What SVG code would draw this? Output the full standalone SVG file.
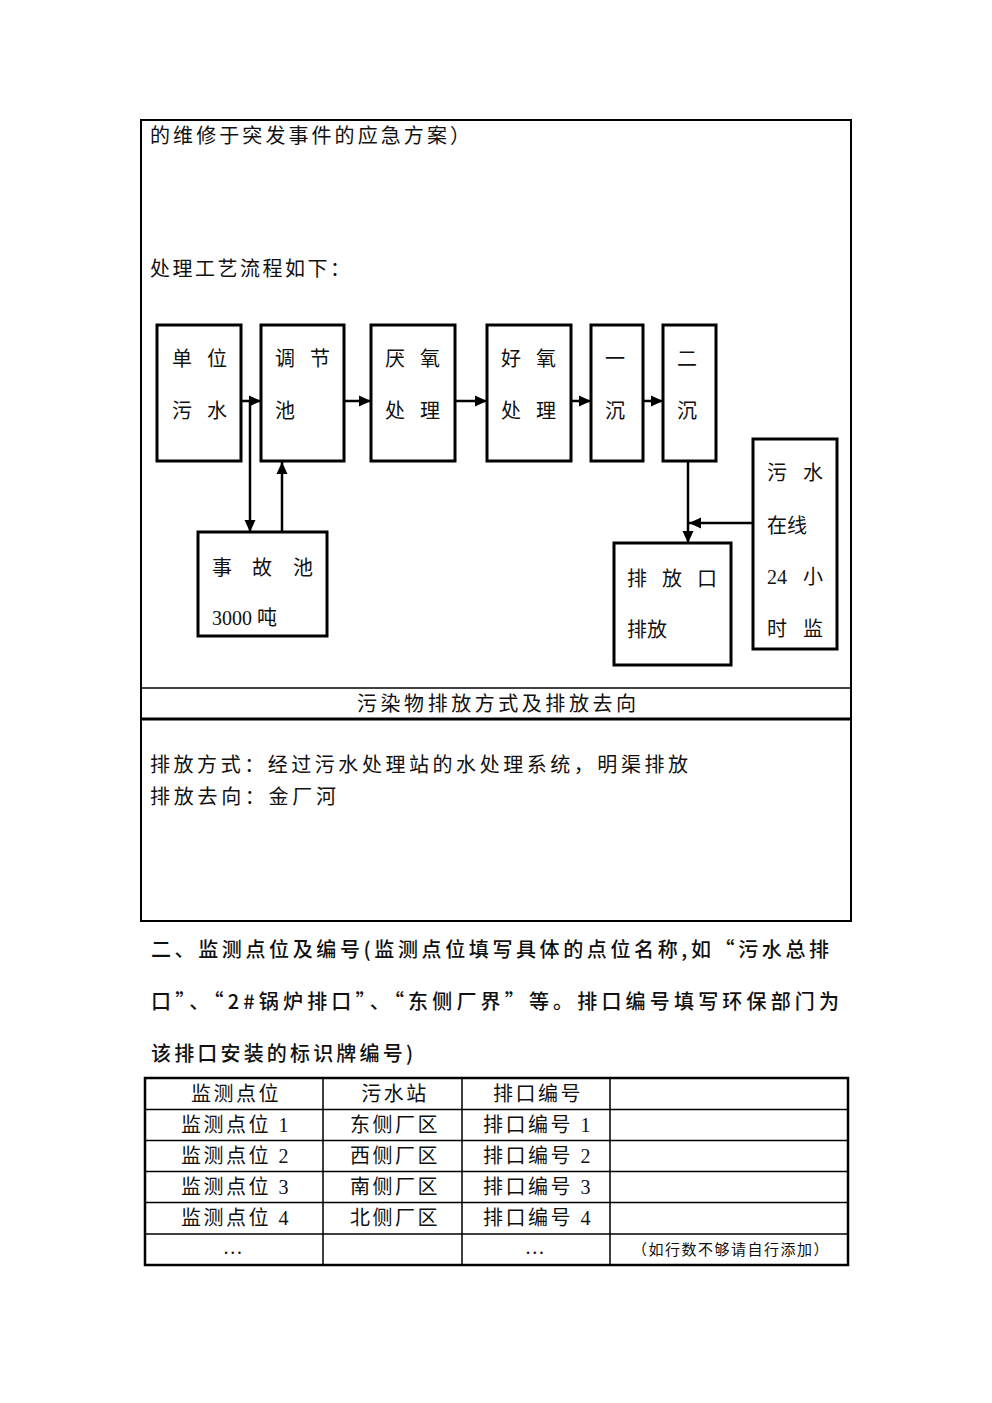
<svg xmlns="http://www.w3.org/2000/svg" width="992" height="1403" viewBox="0 0 992 1403">
<defs>
<style>
.t{font-family:"Liberation Serif","Noto Sans CJK SC",serif;font-size:20px;fill:#111;}
.b{font-family:"Noto Sans CJK SC",sans-serif;font-size:20px;font-weight:500;fill:#111;}
.s{font-family:"Liberation Serif","Noto Sans CJK SC",serif;font-size:15px;fill:#111;letter-spacing:1.5px;}
.box{fill:#fff;stroke:#000;stroke-width:3;}
.frame{fill:none;stroke:#000;stroke-width:2;}
.conn{fill:none;stroke:#000;stroke-width:2.5;marker-end:url(#ah);}
.tb{fill:none;stroke:#000;stroke-width:1.5;}
.tt{letter-spacing:2.5px;}
</style>
<marker id="ah" markerUnits="userSpaceOnUse" markerWidth="12" markerHeight="12" viewBox="0 0 12 12" refX="12" refY="6" orient="auto">
<path d="M0,0.5 L12,6 L0,11.5 Z" fill="#000"/>
</marker>
</defs>
<rect width="992" height="1403" fill="#fff"/>

<g id="frame">
<rect class="frame" x="141" y="120" width="710" height="801"/>
<line x1="141" y1="688" x2="851" y2="688" stroke="#000" stroke-width="1.5"/>
<line x1="141" y1="719" x2="851" y2="719" stroke="#000" stroke-width="3"/>
</g>

<text class="t" x="150" y="143" textLength="320" lengthAdjust="spacing">的维修于突发事件的应急方案）</text>
<text class="t" x="150" y="276" textLength="200" lengthAdjust="spacing">处理工艺流程如下：</text>

<g id="n-danwei">
<rect class="box" x="157" y="325" width="84" height="136"/>
<text class="t" x="172 207" y="366">单位</text>
<text class="t" x="172 207" y="418">污水</text>
</g>
<g id="n-tiaojie">
<rect class="box" x="261" y="325" width="83" height="136"/>
<text class="t" x="275 310" y="366">调节</text>
<text class="t" x="275" y="418">池</text>
</g>
<g id="n-yanyang">
<rect class="box" x="371" y="325" width="84" height="136"/>
<text class="t" x="385 420" y="366">厌氧</text>
<text class="t" x="385 420" y="418">处理</text>
</g>
<g id="n-haoyang">
<rect class="box" x="487" y="325" width="84" height="136"/>
<text class="t" x="501 536" y="366">好氧</text>
<text class="t" x="501 536" y="418">处理</text>
</g>
<g id="n-yichen">
<rect class="box" x="591" y="325" width="52" height="136"/>
<text class="t" x="605" y="366">一</text>
<text class="t" x="605" y="418">沉</text>
</g>
<g id="n-erchen">
<rect class="box" x="663" y="325" width="53" height="136"/>
<text class="t" x="677" y="366">二</text>
<text class="t" x="677" y="418">沉</text>
</g>
<g id="n-shigu">
<rect class="box" x="198" y="532" width="129" height="104"/>
<text class="t" x="212 252 293" y="575">事故池</text>
<text class="t" x="212" y="625">3000 吨</text>
</g>
<g id="n-paifang">
<rect class="box" x="614" y="543" width="117" height="122"/>
<text class="t" x="627 662 697" y="586">排放口</text>
<text class="t" x="627" y="637">排放</text>
</g>
<g id="n-jiance">
<rect class="box" x="753" y="439" width="84" height="210"/>
<text class="t" x="767 803" y="480">污水</text>
<text class="t" x="767" y="533">在线</text>
<text class="t" x="767" y="584">24</text>
<text class="t" x="803" y="584">小</text>
<text class="t" x="767 803" y="636">时监</text>
</g>

<g id="connectors">
<path class="conn" d="M241,401 H261"/>
<path class="conn" d="M344,401 H371"/>
<path class="conn" d="M455,401 H487"/>
<path class="conn" d="M571,401 H591"/>
<path class="conn" d="M643,401 H663"/>
<path class="conn" d="M250,401 V532"/>
<path class="conn" d="M282,532 V462"/>
<path class="conn" d="M688,462 V543"/>
<path class="conn" d="M753,523 H689"/>
</g>

<text class="t" x="357" y="711" textLength="279" lengthAdjust="spacing">污染物排放方式及排放去向</text>
<text class="t" x="150" y="772" textLength="538" lengthAdjust="spacing">排放方式：经过污水处理站的水处理系统，明渠排放</text>
<text class="t" x="150" y="804" textLength="186" lengthAdjust="spacing">排放去向：金厂河</text>

<text class="b" x="151" y="957" textLength="678" lengthAdjust="spacing">二、监测点位及编号(监测点位填写具体的点位名称,如“污水总排</text>
<text class="b" x="151" y="1009" textLength="688" lengthAdjust="spacing">口”、“2#锅炉排口”、“东侧厂界”等。排口编号填写环保部门为</text>
<text class="b" x="151" y="1061" textLength="262" lengthAdjust="spacing">该排口安装的标识牌编号)</text>

<g id="table">
<rect x="145" y="1078" width="703" height="187" fill="none" stroke="#000" stroke-width="2.5"/>
<path class="tb" d="M145,1109.5 H848 M145,1140.5 H848 M145,1171.5 H848 M145,1202.5 H848 M145,1234 H848 M323,1078 V1265 M462,1078 V1265 M610,1078 V1265"/>
<g class="t tt" text-anchor="middle">
<text x="236" y="1101">监测点位</text>
<text x="395" y="1101">污水站</text>
<text x="538" y="1101">排口编号</text>
<text x="236" y="1132">监测点位 1</text>
<text x="395" y="1132">东侧厂区</text>
<text x="538" y="1132">排口编号 1</text>
<text x="236" y="1163">监测点位 2</text>
<text x="395" y="1163">西侧厂区</text>
<text x="538" y="1163">排口编号 2</text>
<text x="236" y="1194">监测点位 3</text>
<text x="395" y="1194">南侧厂区</text>
<text x="538" y="1194">排口编号 3</text>
<text x="236" y="1225">监测点位 4</text>
<text x="395" y="1225">北侧厂区</text>
<text x="538" y="1225">排口编号 4</text>
<text x="234" y="1254">…</text>
<text x="536" y="1254">…</text>
</g>
<text class="s" x="731" y="1255" text-anchor="middle">（如行数不够请自行添加）</text>
</g>
</svg>
